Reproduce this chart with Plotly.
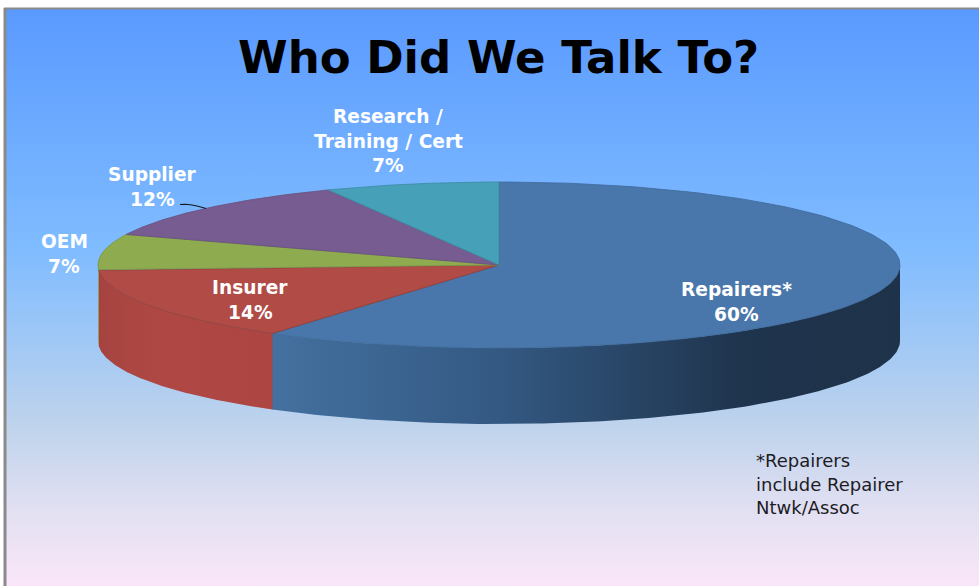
import numpy as np
import plotly.graph_objects as go

# Survey mix, clockwise from twelve o'clock
categories = ["Repairers*", "Insurer", "OEM", "Supplier", "Research /<br>Training / Cert"]
shares = [60, 14, 7, 12, 7]
top_colors = ["#4977ab", "#b04b46", "#8fab50", "#775c91", "#45a0b8"]
edge_colors = ["#3f6897", "#8f3c38", "#7c9444", "#67507e", "#3b8aa0"]
label_centers = [(736, 302), (250, 300), (64, 254), (152, 187), (388, 141)]

title_text = "Who Did We Talk To?"
footnote_text = "*Repairers<br>include Repairer<br>Ntwk/Assoc"

W, H = 979, 586
CX, CY, RX, RY, DEPTH = 499.0, 265.0, 401.0, 83.0, 76.0
LABEL_FONT = "DejaVu Sans"

# The y axis runs downward, so stop 0 of the vertical gradient is the page bottom
background_stops = [
    [0.0, "#fae6f8"], [0.13, "#e2e0f2"], [0.28, "#bed3ec"],
    [0.58, "#80bcff"], [1.0, "#5a9aff"],
]
side_gradients = {
    "Repairers*": [[0.0, "#44709f"], [0.35, "#345a84"], [0.75, "#1f344d"], [1.0, "#1e3249"]],
    "Insurer": [[0.0, "#a64340"], [0.35, "#af4844"], [1.0, "#ad4642"]],
    "OEM": [[0.0, "#86a04a"], [1.0, "#86a04a"]],
}


def view_angle(deg):
    # Slight foreshortening of the front-left rim in the tilted view
    return deg - 1.6 * np.exp(-(((deg - 216.0) / 30.0) ** 2))


def rim(a0, a1, n=160):
    t = np.radians(view_angle(np.linspace(a0, a1, n)))
    return CX + RX * np.sin(t), CY - RY * np.cos(t)


def stacked_text(text, x, y, size, spacing, color, family, bold=False, anchor="center"):
    # One annotation per line keeps the leading independent of the font size
    lines = text.split("<br>")
    out = []
    for i, line in enumerate(lines):
        out.append(dict(
            x=x, y=y + (i - (len(lines) - 1) / 2) * spacing,
            text=f"<b>{line}</b>" if bold else line,
            showarrow=False, xanchor=anchor,
            font=dict(family=family, size=size, color=color),
        ))
    return out


fractions = np.cumsum([0] + shares) / sum(shares) * 360.0
fig = go.Figure()

# Slide backdrop
fig.add_trace(go.Scatter(
    x=[6, W, W, 6, 6], y=[9, 9, H, H, 9], mode="lines", line=dict(width=0),
    fill="toself",
    fillgradient=dict(type="vertical", colorscale=background_stops),
    hoverinfo="skip",
))

# Cylinder wall: only the front half of the rim faces the viewer
for name, a0, a1 in zip(categories, fractions[:-1], fractions[1:]):
    lo, hi = max(a0, 90.0), min(a1, 270.0)
    if lo >= hi or name not in side_gradients:
        continue
    x, y = rim(lo, hi)
    fig.add_trace(go.Scatter(
        x=np.r_[x, x[::-1], x[0]], y=np.r_[y, y[::-1] + DEPTH, y[0]],
        mode="lines", line=dict(width=0), fill="toself",
        fillgradient=dict(type="horizontal", colorscale=side_gradients[name]),
        hoverinfo="skip",
    ))

# Seam between the two front wall sections
seam_x, seam_y = rim(fractions[1], fractions[1], n=1)
fig.add_trace(go.Scatter(
    x=[seam_x[0], seam_x[0]], y=[seam_y[0], seam_y[0] + DEPTH], mode="lines",
    line=dict(color="#6b5a78", width=1), hoverinfo="skip",
))

# Top face wedges
for name, a0, a1, col, edge in zip(categories, fractions[:-1], fractions[1:], top_colors, edge_colors):
    x, y = rim(a0, a1)
    fig.add_trace(go.Scatter(
        x=np.r_[CX, x, CX], y=np.r_[CY, y, CY], mode="lines",
        line=dict(color=edge, width=0.8), fill="toself", fillcolor=col,
        hoverinfo="skip",
    ))

# Leader from the Supplier label to its wedge
fig.add_trace(go.Scatter(
    x=[180, 188, 197, 206], y=[204.5, 204.5, 206, 208.5], mode="lines",
    line=dict(color="#10181c", width=1.2, shape="spline"), hoverinfo="skip",
))

annotations = [
    dict(x=498, y=57, text=f"<b>{title_text}</b>", showarrow=False,
         font=dict(family=LABEL_FONT, size=45, color="#000000")),
]
annotations += stacked_text(footnote_text, 754, 484, 18, 23.5, "#1c1c24", LABEL_FONT, anchor="left")
for name, share, (lx, ly) in zip(categories, shares, label_centers):
    annotations += stacked_text(f"{name}<br>{share}%", lx, ly, 18.6, 24.5, "#ffffff", LABEL_FONT, bold=True)

fig.update_layout(
    width=W, height=H, autosize=False, showlegend=False,
    margin=dict(l=0, r=0, t=0, b=0),
    paper_bgcolor="#ffffff", plot_bgcolor="#ffffff",
    xaxis=dict(range=[0, W], visible=False, fixedrange=True),
    yaxis=dict(range=[H, 0], visible=False, fixedrange=True),
    annotations=annotations,
    shapes=[
        dict(type="line", x0=5, x1=5, y0=8, y1=H, line=dict(color="#8a8a8a", width=3)),
        dict(type="line", x0=4, x1=W, y0=8.5, y1=8.5, line=dict(color="#8a8a8a", width=2)),
    ],
)
fig.write_html("out.html", config=dict(displayModeBar=False))
